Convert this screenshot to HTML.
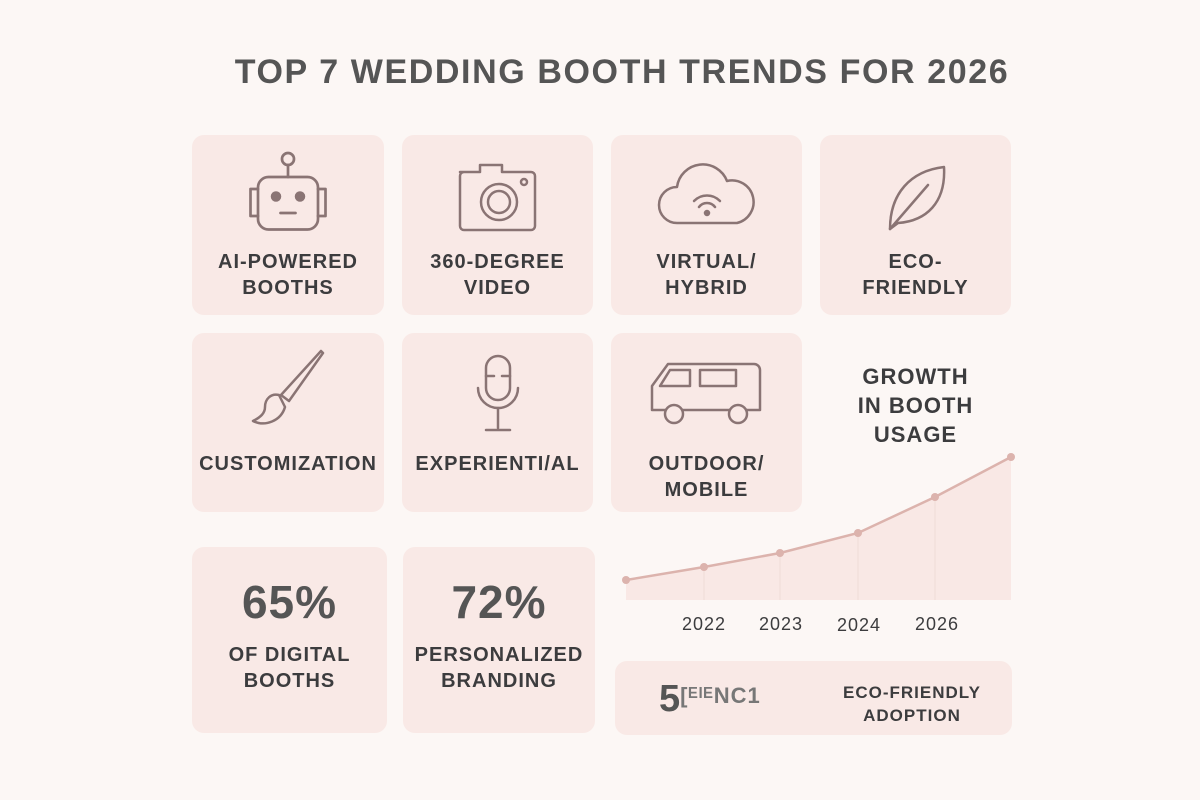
<!DOCTYPE html>
<html><head><meta charset="utf-8"><style>
body{margin:0;width:1200px;height:800px;background:#fcf7f5;font-family:"Liberation Sans",sans-serif;position:relative;overflow:hidden;color:#3c3c3e}
.c{position:absolute;background:#f9e9e6;border-radius:12px}
.t{position:absolute;left:0;right:0;text-align:center;font-weight:bold;font-size:20px;letter-spacing:1px;line-height:26px}
svg.i{position:absolute;left:50%;transform:translateX(-50%);fill:none;stroke:#8a7474;stroke-width:2.5;stroke-linecap:round;stroke-linejoin:round}
.ab{position:absolute;font-weight:bold}
</style></head><body>
<div class="ab" style="left:222px;width:800px;top:53px;text-align:center;font-size:34px;letter-spacing:1.6px;color:#555;white-space:nowrap">TOP 7 WEDDING BOOTH TRENDS FOR 2026</div>

<div class="c" style="left:192px;top:135px;width:192px;height:180px">
<svg class="i" style="top:9px;stroke-width:1.8" width="135" height="120" viewBox="0 0 90 80"><circle cx="45" cy="10" r="4"/><line x1="45" y1="14" x2="45" y2="22"/><rect x="25" y="22" width="40" height="35" rx="7"/><path d="M25 30h-5v18h5M65 30h5v18h-5"/><circle cx="37" cy="35" r="3.5" fill="#8a7474" stroke="none"/><circle cx="53" cy="35" r="3.5" fill="#8a7474" stroke="none"/><line x1="40" y1="46" x2="50" y2="46"/></svg>
<div class="t" style="top:114px">AI-POWERED<br>BOOTHS</div></div>

<div class="c" style="left:402px;top:135px;width:191px;height:180px">
<svg class="i" style="top:25px" width="100" height="80" viewBox="0 0 100 80"><path d="M12 12h20v-7h22v7h29a4 4 0 0 1 4 4v50a4 4 0 0 1-4 4H16a4 4 0 0 1-4-4V16a4 4 0 0 1 4-4"/><circle cx="51" cy="42" r="18"/><circle cx="51" cy="42" r="11"/><circle cx="76" cy="22" r="3"/></svg>
<div class="t" style="top:114px">360-DEGREE<br>VIDEO</div></div>

<div class="c" style="left:611px;top:135px;width:191px;height:180px">
<svg class="i" style="top:28px" width="110" height="70" viewBox="0 0 110 70"><path d="M25 60a18 18 0 0 1 0-36a26 26 0 0 1 50-6a20 20 0 0 1 10 42z"/><path d="M42 38a18 18 0 0 1 26 0M47 44a10 10 0 0 1 16 0"/><circle cx="55" cy="50" r="2" fill="#8a7474"/></svg>
<div class="t" style="top:114px">VIRTUAL/<br>HYBRID</div></div>

<div class="c" style="left:820px;top:135px;width:191px;height:180px">
<svg class="i" style="top:22px" width="80" height="80" viewBox="0 0 80 80"><path d="M14 72c0-35 20-58 54-62c2 36-18 54-46 56z"/><line x1="14" y1="72" x2="52" y2="28"/></svg>
<div class="t" style="top:114px">ECO-<br>FRIENDLY</div></div>

<div class="c" style="left:192px;top:333px;width:192px;height:179px">
<svg class="i" style="top:14px" width="90" height="90" viewBox="0 0 90 90"><path d="M80 6l-34 48l-8-6l40-44z"/><path d="M36 48c-8-2-14 4-14 12c0 6-4 10-12 14c12 6 28 0 32-14z"/></svg>
<div class="t" style="top:118px">CUSTOMIZATION</div></div>

<div class="c" style="left:402px;top:333px;width:191px;height:179px">
<svg class="i" style="top:15px" width="60" height="90" viewBox="0 0 60 90"><rect x="18" y="8" width="24" height="44" rx="12"/><path d="M10 40a20 20 0 0 0 40 0"/><line x1="30" y1="60" x2="30" y2="80"/><line x1="18" y1="82" x2="42" y2="82"/><line x1="18" y1="28" x2="26" y2="28"/><line x1="34" y1="28" x2="42" y2="28"/></svg>
<div class="t" style="top:118px">EXPERIENTI/AL</div></div>

<div class="c" style="left:611px;top:333px;width:191px;height:179px">
<svg class="i" style="top:25px" width="130" height="70" viewBox="0 0 130 70"><path d="M10 52V28l16-22h86a6 6 0 0 1 6 6v40z"/><path d="M28 12h20v16H18zM58 12h36v16H58z"/><circle cx="32" cy="56" r="9" fill="#f9e9e6"/><circle cx="96" cy="56" r="9" fill="#f9e9e6"/></svg>
<div class="t" style="top:118px">OUTDOOR/<br>MOBILE</div></div>

<div class="t" style="left:820px;right:auto;width:191px;top:362px;font-size:22px;line-height:29px">GROWTH<br>IN BOOTH<br>USAGE</div>

<svg style="position:absolute;left:0;top:0" width="1200" height="800">
<path d="M626 580L704 567L780 553L858 533L935 497L1011 457V600H626Z" fill="#f9e8e5"/>
<g stroke="#efdcd8" stroke-width="1"><line x1="704" y1="567" x2="704" y2="600"/><line x1="780" y1="553" x2="780" y2="600"/><line x1="858" y1="533" x2="858" y2="600"/><line x1="935" y1="497" x2="935" y2="600"/></g>
<polyline points="626,580 704,567 780,553 858,533 935,497 1011,457" fill="none" stroke="#dcb3ad" stroke-width="2.5"/>
<g fill="#dcb3ad"><circle cx="626" cy="580" r="4"/><circle cx="704" cy="567" r="4"/><circle cx="780" cy="553" r="4"/><circle cx="858" cy="533" r="4"/><circle cx="935" cy="497" r="4"/><circle cx="1011" cy="457" r="4"/></g>
<g font-family="Liberation Sans" font-size="18" fill="#3c3c3e" text-anchor="middle" letter-spacing="1"><text x="704" y="630">2022</text><text x="781" y="630">2023</text><text x="859" y="631">2024</text><text x="937" y="630">2026</text></g>
</svg>

<div class="c" style="left:192px;top:547px;width:195px;height:186px">
<div class="t" style="top:30px;font-size:46px;line-height:50px;color:#555">65%</div>
<div class="t" style="top:95px">OF DIGITAL<br>BOOTHS</div></div>
<div class="c" style="left:403px;top:547px;width:192px;height:186px">
<div class="t" style="top:30px;font-size:46px;line-height:50px;color:#555">72%</div>
<div class="t" style="top:95px">PERSONALIZED<br>BRANDING</div></div>

<div class="c" style="left:615px;top:661px;width:397px;height:74px">
<div class="ab" style="left:44px;top:17px;font-size:38px;color:#555">5<span style="font-size:22px;letter-spacing:1px;color:#777;vertical-align:8px">[ᴱᴵᴱNC1</span></div>
<div class="ab" style="left:222px;width:150px;top:20px;text-align:center;font-size:17px;line-height:23px;letter-spacing:1px">ECO-FRIENDLY<br>ADOPTION</div></div>
</body></html>
